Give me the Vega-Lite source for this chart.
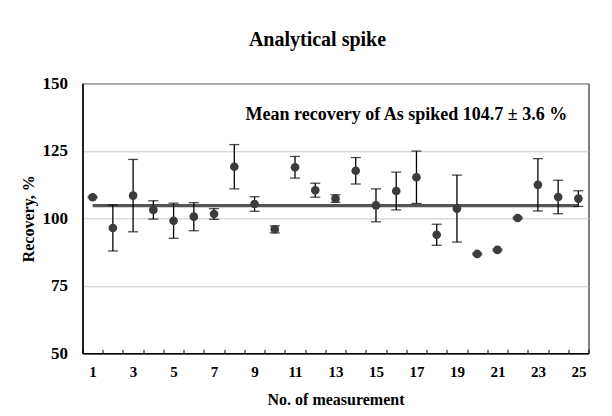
{
  "$schema": "https://vega.github.io/schema/vega-lite/v6.json",
  "width": 506,
  "height": 270,
  "autosize": "none",
  "padding": {"left": 82.5, "top": 83.3, "right": 23.5, "bottom": 62.7},
  "background": "white",
  "title": {
    "text": "Analytical spike",
    "font": "Liberation Serif",
    "fontSize": 20,
    "fontWeight": "bold",
    "color": "black",
    "anchor": "middle",
    "offset": 24,
    "dx": -18
  },
  "config": {
    "view": {"stroke": "black", "strokeWidth": 1},
    "font": "Liberation Serif"
  },
  "datasets": {
    "points": [
      {"n": 1, "rec": 107.8, "err": 0.3, "mean": 104.7},
      {"n": 2, "rec": 96.4, "err": 8.5, "mean": 104.7},
      {"n": 3, "rec": 108.4, "err": 13.4, "mean": 104.7},
      {"n": 4, "rec": 103.1, "err": 3.4, "mean": 104.7},
      {"n": 5, "rec": 99.1, "err": 6.5, "mean": 104.7},
      {"n": 6, "rec": 100.6, "err": 5.2, "mean": 104.7},
      {"n": 7, "rec": 101.6, "err": 2.0, "mean": 104.7},
      {"n": 8, "rec": 119.1, "err": 8.2, "mean": 104.7},
      {"n": 9, "rec": 105.3, "err": 2.7, "mean": 104.7},
      {"n": 10, "rec": 95.9, "err": 1.3, "mean": 104.7},
      {"n": 11, "rec": 118.9, "err": 4.0, "mean": 104.7},
      {"n": 12, "rec": 110.4, "err": 2.6, "mean": 104.7},
      {"n": 13, "rec": 107.3, "err": 1.4, "mean": 104.7},
      {"n": 14, "rec": 117.6, "err": 4.9, "mean": 104.7},
      {"n": 15, "rec": 104.8, "err": 6.1, "mean": 104.7},
      {"n": 16, "rec": 110.1, "err": 7.0, "mean": 104.7},
      {"n": 17, "rec": 115.2, "err": 9.7, "mean": 104.7},
      {"n": 18, "rec": 93.9, "err": 3.9, "mean": 104.7},
      {"n": 19, "rec": 103.6, "err": 12.4, "mean": 104.7},
      {"n": 20, "rec": 86.8, "err": 0.3, "mean": 104.7},
      {"n": 21, "rec": 88.3, "err": 0.3, "mean": 104.7},
      {"n": 22, "rec": 100.1, "err": 0.3, "mean": 104.7},
      {"n": 23, "rec": 112.4, "err": 9.7, "mean": 104.7},
      {"n": 24, "rec": 107.9, "err": 6.2, "mean": 104.7},
      {"n": 25, "rec": 107.3, "err": 2.9, "mean": 104.7}
    ],
    "note": [
      {"label": "Mean recovery of As spiked 104.7 ± 3.6 %", "n": 24, "y": 138.3}
    ]
  },
  "data": {"name": "points"},
  "encoding": {
    "x": {
      "field": "n",
      "type": "ordinal",
      "scale": {"paddingInner": 0, "paddingOuter": 0},
      "axis": {
        "title": "No. of measurement",
        "titleFont": "Liberation Serif",
        "titleFontSize": 16,
        "titleFontWeight": "bold",
        "titleColor": "black",
        "titlePadding": 12,
        "labelAngle": 0,
        "labelFont": "Liberation Serif",
        "labelFontSize": 15,
        "labelFontWeight": "bold",
        "labelColor": "black",
        "labelPadding": 15,
        "labelExpr": "datum.value % 2 == 1 ? datum.label : ''",
        "tickBand": "extent",
        "tickSize": -4,
        "tickColor": "black",
        "domainColor": "black",
        "domainWidth": 1.5
      }
    }
  },
  "layer": [
    {
      "mark": {"type": "line", "color": "#555555", "strokeWidth": 3.2},
      "encoding": {
        "y": {
          "field": "mean",
          "type": "quantitative",
          "title": "Recovery, %",
          "scale": {"domain": [50, 150], "nice": false},
          "axis": {
            "titleFont": "Liberation Serif",
            "titleFontSize": 16,
            "titleFontWeight": "bold",
            "titleColor": "black",
            "titlePadding": 6,
            "values": [50, 75, 100, 125, 150],
            "labelFont": "Liberation Serif",
            "labelFontSize": 17,
            "labelFontWeight": "bold",
            "labelColor": "black",
            "labelPadding": 15,
            "ticks": false,
            "grid": true,
            "gridColor": "#c8c8c8",
            "gridWidth": 1,
            "domainColor": "black",
            "domainWidth": 1.5
          }
        }
      }
    },
    {
      "mark": {"type": "errorbar", "color": "black", "thickness": 1.3, "ticks": {"size": 10, "color": "black", "thickness": 1.3}},
      "encoding": {
        "y": {"field": "rec", "type": "quantitative", "title": "Recovery, %"},
        "yError": {"field": "err"}
      }
    },
    {
      "mark": {"type": "point", "filled": true, "color": "#3c3c3c", "opacity": 1, "size": 75},
      "encoding": {
        "y": {"field": "rec", "type": "quantitative", "title": "Recovery, %"}
      }
    },
    {
      "data": {"name": "note"},
      "mark": {"type": "text", "font": "Liberation Serif", "fontSize": 18, "fontWeight": "bold", "color": "black", "align": "right", "baseline": "middle", "dx": 9},
      "encoding": {
        "x": {"field": "n", "type": "ordinal"},
        "y": {"field": "y", "type": "quantitative", "title": "Recovery, %"},
        "text": {"field": "label"}
      }
    }
  ]
}
